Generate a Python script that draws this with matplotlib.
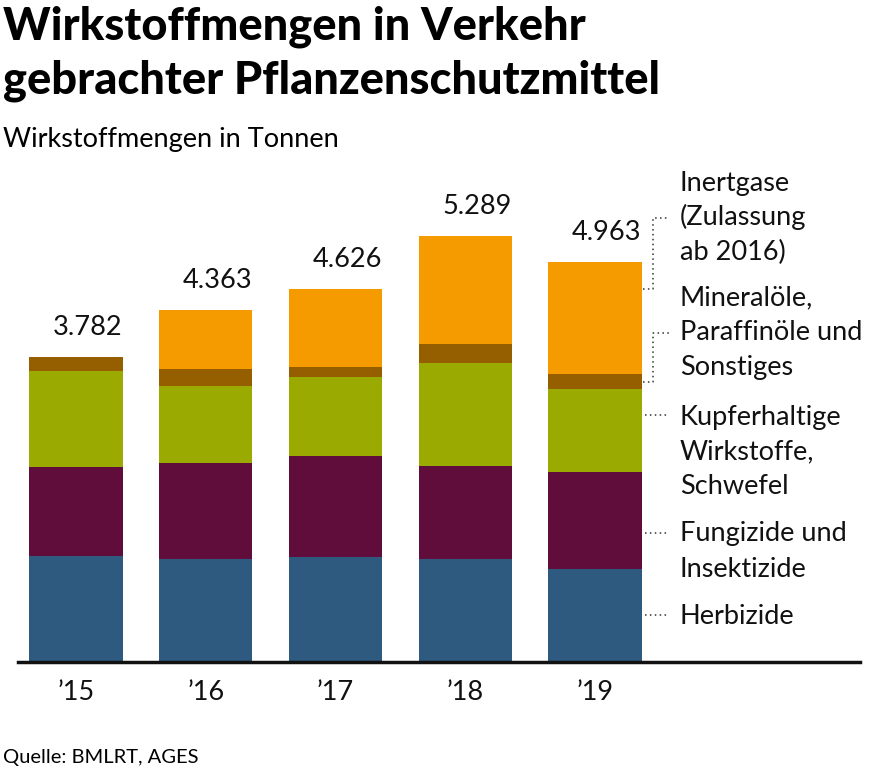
import matplotlib
matplotlib.use('Agg')
import matplotlib.pyplot as plt

plt.rcParams['font.family'] = ['Lato', 'DejaVu Sans']

years = ['’15', '’16', '’17', '’18', '’19']
totals = ['3.782', '4.363', '4.626', '5.289', '4.963']
herbizide = [1315, 1278, 1295, 1274, 1150]
fungizide = [1099, 1186, 1263, 1156, 1206]
kupfer = [1193, 957, 975, 1277, 1028]
mineraloele = [174, 215, 132, 240, 186]
inertgase = [0, 730, 962, 1342, 1392]

series = [herbizide, fungizide, kupfer, mineraloele, inertgase]
colors = ['#2f5a7f', '#610d3b', '#9aaa00', '#955f00', '#f59b00']

fig = plt.figure(figsize=(8.75, 7.71), dpi=100)
W, H = 875, 771


def fy(py):
    return (H - py) / H


def fx(px):
    return px / W


# axes: x from 18px to 860px, baseline at y=661.5px
ax = fig.add_axes([fx(18), fy(661.5), (860 - 18) / W, (661.5 - 170) / H])
px_unit = 129.75
ax.set_xlim(-(76 - 18) / px_unit, (860 - 76) / px_unit)
ax.set_ylim(0, 491.5 * 12.43)

x = list(range(len(years)))
bottom = [0] * len(years)
for vals, col in zip(series, colors):
    ax.bar(x, vals, width=0.72, bottom=bottom, color=col, linewidth=0)
    bottom = [b + v for b, v in zip(bottom, vals)]

for xi, top, lab in zip(x, bottom, totals):
    ax.text(xi + 0.36, top + 22 * 12.43, lab, ha='right', va='baseline',
            fontsize=19.5, color='#111111')

for s in ['top', 'right', 'left']:
    ax.spines[s].set_visible(False)
ax.spines['bottom'].set_linewidth(2.5)
ax.spines['bottom'].set_color('#111111')
ax.set_yticks([])
ax.set_xticks(x)
ax.set_xticklabels(years, fontsize=19.5, color='#111111')
ax.tick_params(axis='x', length=0, pad=13)

# legend labels on the right, one text per line (figure pixel coords)
legend_lines = [
    ('Inertgase', 191.5), ('(Zulassung', 225.5), ('ab 2016)', 260),
    ('Mineralöle,', 305), ('Paraffinöle und', 340), ('Sonstiges', 375),
    ('Kupferhaltige', 425), ('Wirkstoffe,', 459.5), ('Schwefel', 493.5),
    ('Fungizide und', 541), ('Insektizide', 577),
    ('Herbizide', 623.5),
]
for txt, py in legend_lines:
    fig.text(fx(680), fy(py), txt, fontsize=19.5, ha='left', va='baseline',
             color='#111111')

dot = dict(color='#333333', lw=1.1, linestyle=(0, (1, 2.2)))
# bracket leaders for the thin top segments
for py_bar, py_txt in [(289, 218), (382, 333)]:
    fig.add_artist(plt.Line2D([fx(643), fx(653), fx(653), fx(669)],
                              [fy(py_bar), fy(py_bar), fy(py_txt), fy(py_txt)], **dot))
for py in [415, 533, 615]:
    fig.add_artist(plt.Line2D([fx(645), fx(669)], [fy(py), fy(py)], **dot))

fig.text(fx(3), fy(40), 'Wirkstoffmengen in Verkehr', fontsize=32.5, fontweight='black',
         ha='left', va='baseline')
fig.text(fx(3), fy(93), 'gebrachter Pflanzenschutzmittel', fontsize=32.5, fontweight='black',
         ha='left', va='baseline')
fig.text(fx(3), fy(147), 'Wirkstoffmengen in Tonnen', fontsize=19.5, ha='left', va='baseline')
fig.text(fx(3), fy(763), 'Quelle: BMLRT, AGES', fontsize=14.5, ha='left', va='baseline')

fig.savefig('out.png', dpi=100)
